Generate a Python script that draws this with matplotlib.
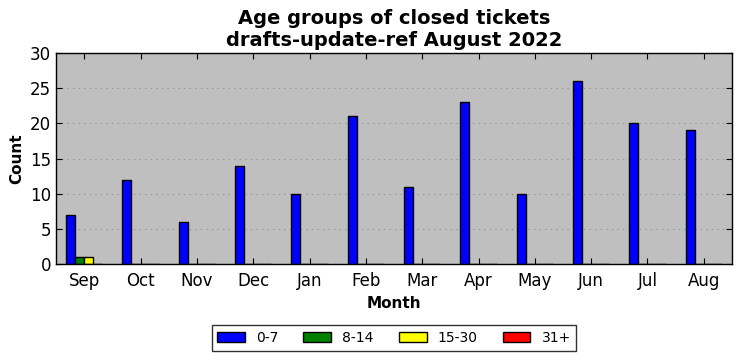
import matplotlib
matplotlib.use('Agg')
import matplotlib.pyplot as plt
import numpy as np

months = ['Sep', 'Oct', 'Nov', 'Dec', 'Jan', 'Feb', 'Mar', 'Apr', 'May', 'Jun', 'Jul', 'Aug']
age_groups = ['0-7', '8-14', '15-30', '31+']
colors = ['blue', 'green', 'yellow', 'red']

counts_0_7 = [7, 12, 6, 14, 10, 21, 11, 23, 10, 26, 20, 19]
counts_8_14 = [1, 0, 0, 0, 0, 0, 0, 0, 0, 0, 0, 0]
counts_15_30 = [1, 0, 0, 0, 0, 0, 0, 0, 0, 0, 0, 0]
counts_31 = [0, 0, 0, 0, 0, 0, 0, 0, 0, 0, 0, 0]
series = [counts_0_7, counts_8_14, counts_15_30, counts_31]

fig = plt.figure(figsize=(7.42, 3.61), dpi=100)
ax = fig.add_axes([56 / 742, 1 - 264 / 361, 676 / 742, 211 / 361])
ax.set_facecolor('#bfbfbf')
ax.set_axisbelow(True)

x = np.arange(len(months))
width = 0.16
for i, (vals, name, col) in enumerate(zip(series, age_groups, colors)):
    ax.bar(x + (i - 2) * width, vals, width, align='edge', color=col,
           edgecolor='black', linewidth=1, label=name)

ax.set_xlim(-0.5, len(months) - 0.5)
ax.set_ylim(0, 30)
ax.set_xticks(x)
ax.set_xticklabels(months)
ax.set_yticks(np.arange(0, 31, 5))
ax.tick_params(direction='in', top=True, right=True, labelsize=12, length=4)
ax.tick_params(axis='x', pad=6)
ax.yaxis.grid(True, linestyle=(0, (1, 4)), color='#8c8c8c', linewidth=0.8)
for s in ax.spines.values():
    s.set_linewidth(1)

ax.set_title('Age groups of closed tickets\ndrafts-update-ref August 2022',
             fontsize=14, fontweight='bold', linespacing=1.2, pad=5)
ax.set_xlabel('Month', fontsize=11, fontweight='bold')
ax.set_ylabel('Count', fontsize=11, fontweight='bold')

leg = fig.legend(loc='center', bbox_to_anchor=(394 / 742, 1 - 338 / 361), ncol=4,
                 fancybox=False, edgecolor='black', fontsize=10, handlelength=2.0,
                 handleheight=0.7, columnspacing=1.8, borderpad=0.4)
leg.get_frame().set_linewidth(1)

fig.savefig('out.png', dpi=100, facecolor='white')
